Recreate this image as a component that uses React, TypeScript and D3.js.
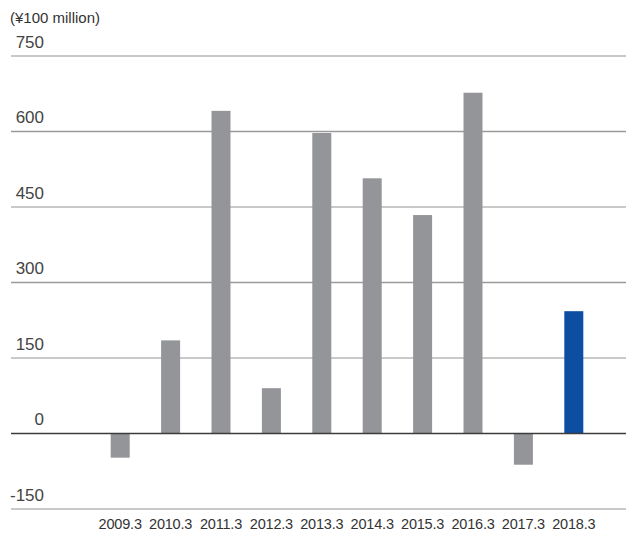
import React from "react";
import * as d3 from "d3";

const categories = ["2009.3", "2010.3", "2011.3", "2012.3", "2013.3", "2014.3", "2015.3", "2016.3", "2017.3", "2018.3"];
const values = [-48, 185, 641, 90, 597, 507, 434, 677, -62, 243];
const yTicks = [750, 600, 450, 300, 150, 0, -150];
const unitLabel = "(¥100 million)";

const W = 632;
const H = 533;

export default function App() {
  const x = d3
    .scaleBand<string>()
    .domain(categories)
    .range([95, 599])
    .paddingInner(0.623)
    .paddingOuter(0.3115);
  const y = d3.scaleLinear().domain([-150, 750]).range([509, 56]);
  const darkTicks = new Set([600, 300]);
  const font = "'Liberation Sans', Arial, Helvetica, sans-serif";

  return (
    <svg width={W} height={H} style={{ position: "absolute", left: 0, top: 0 }} fontFamily={font}>
      <rect width={W} height={H} fill="#fff" />
      <text x={10} y={23} fontSize={15} fill="#333">{unitLabel}</text>
      {yTicks.map((t) => {
        const yy = y(t);
        const isZero = t === 0;
        const dark = darkTicks.has(t);
        return (
          <g key={t}>
            {!isZero && (
              <line
                x1={11}
                x2={626}
                y1={yy}
                y2={yy}
                stroke={dark ? "#9a9a9a" : "#c9c9c9"}
                strokeWidth={dark ? 1.5 : 2}
              />
            )}
            <text x={44} y={yy - 8.5} fontSize={17} textAnchor="end" fill="#444">
              {t}
            </text>
          </g>
        );
      })}
      {categories.map((c, i) => {
        const v = values[i];
        const y0 = y(0);
        const yv = y(v);
        return (
          <rect
            key={c}
            x={x(c)}
            width={x.bandwidth()}
            y={Math.min(y0, yv)}
            height={Math.abs(yv - y0)}
            fill={i === categories.length - 1 ? "#0b4ea2" : "#939598"}
          />
        );
      })}
      <line x1={11} x2={626} y1={y(0)} y2={y(0)} stroke="#3c3c3c" strokeWidth={1.3} />
      {categories.map((c) => (
        <text
          key={c}
          x={(x(c) ?? 0) + x.bandwidth() / 2}
          y={529}
          fontSize={14.5}
          letterSpacing={-0.2}
          textAnchor="middle"
          fill="#333"
        >
          {c}
        </text>
      ))}
    </svg>
  );
}
